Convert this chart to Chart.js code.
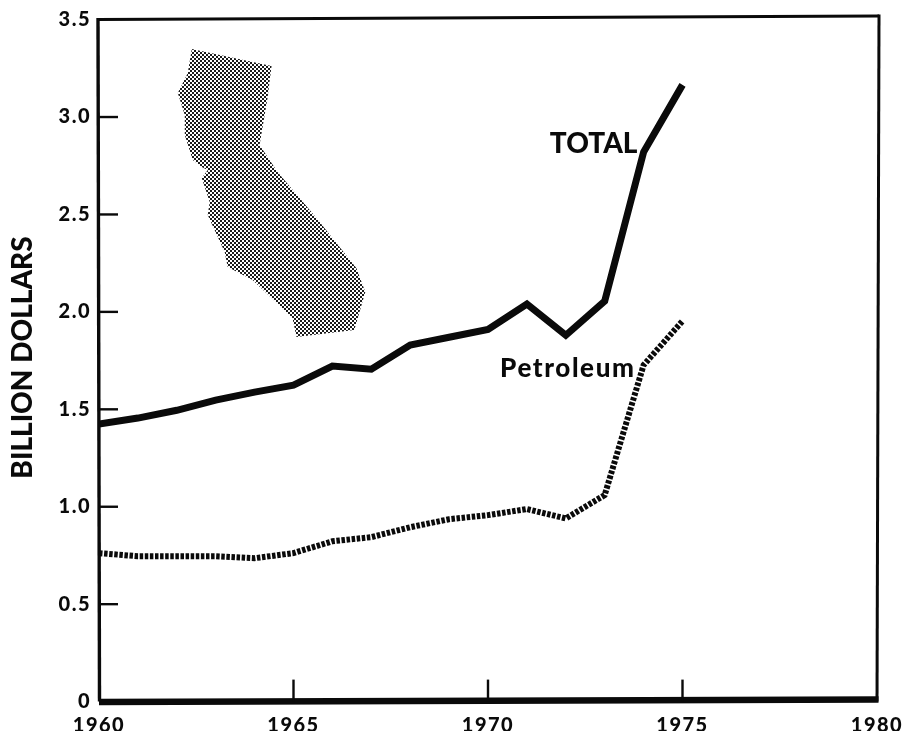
<!DOCTYPE html>
<html><head><meta charset="utf-8">
<style>html,body{margin:0;padding:0;background:#fff}canvas{display:block}</style>
<script src="https://cdn.jsdelivr.net/npm/chart.js@4"></script>
</head><body><canvas id="c" width="908" height="731" style="width:908px;height:731px"></canvas>
<script>
const years=[1960,1961,1962,1963,1964,1965,1966,1967,1968,1969,1970,1971,1972,1973,1974,1975];
const total=[1.424,1.455,1.495,1.547,1.588,1.624,1.722,1.706,1.83,1.87,1.91,2.04,1.88,2.055,2.82,3.165];
const petroleum=[0.762,0.746,0.746,0.746,0.736,0.762,0.823,0.844,0.895,0.936,0.957,0.988,0.94,1.06,1.727,1.953];
const mapX=[2.385,4.436,4.333,4.128,4.590,5.590,6.615,6.846,6.564,5.077,4.974,3.949,3.308,3.231,2.795,2.846,2.641,2.795,2.641,2.410,2.205,2.205,2.026,2.282];
const mapY=[3.349,3.262,3.098,2.856,2.718,2.482,2.225,2.102,1.907,1.871,1.968,2.163,2.230,2.307,2.497,2.564,2.687,2.728,2.743,2.779,2.908,3.010,3.123,3.226];
const xTicks=[1960,1965,1970,1975,1980];
const yTicks=[0,0.5,1,1.5,2,2.5,3,3.5];
const fontFam='Lato, "Noto Sans", sans-serif';
const ink='#0a0a0a';
const pair=(xs,ys)=>xs.map((x,i)=>({x,y:ys[i]}));
const tile=document.createElement('canvas');tile.width=4;tile.height=4;
const t=tile.getContext('2d');t.fillStyle='#1a1a1a';
t.fillRect(0,0,2,2);t.fillRect(2,2,2,2);
const pattern=t.createPattern(tile,'repeat');
const frame={id:'frame',
 beforeDraw(ch){ch.ctx.letterSpacing='1.5px';},
 afterDraw(ch){
  const {ctx,chartArea:a,scales:{x,y}}=ch;
  ctx.save();ctx.letterSpacing='0px';ctx.strokeStyle=ink;ctx.lineCap='butt';
  const seg=(w,x1,y1,x2,y2)=>{ctx.lineWidth=w;ctx.beginPath();ctx.moveTo(x1,y1);ctx.lineTo(x2,y2);ctx.stroke();};
  seg(3,a.left-1,a.top,a.right+2,a.top-3.5);
  seg(3,a.right+2,a.top-5,a.right,a.bottom);
  seg(3.4,a.left-1,a.top-1.5,a.left+0.5,a.bottom);
  seg(6.5,a.left,a.bottom+0.5,a.right+1.5,a.bottom-2);
  yTicks.slice(1,-1).forEach(v=>seg(2.4,a.left,y.getPixelForValue(v),a.left+19,y.getPixelForValue(v)));
  xTicks.slice(1,-1).forEach(v=>seg(2.4,x.getPixelForValue(v),a.bottom,x.getPixelForValue(v),a.bottom-22));
  ctx.fillStyle=ink;ctx.textBaseline='alphabetic';ctx.textAlign='left';
  ctx.font='900 28px '+fontFam;ctx.fillText('TOTAL',x.getPixelForValue(1971.59),y.getPixelForValue(2.815));
  ctx.letterSpacing='1.6px';
  ctx.font='900 26px '+fontFam;ctx.fillText('Petroleum',x.getPixelForValue(1970.31),y.getPixelForValue(1.665));
  ctx.letterSpacing='0px';
  ctx.translate(31.5,357.5);ctx.rotate(-Math.PI/2);ctx.textAlign='center';
  ctx.font='900 28px '+fontFam;ctx.fillText('BILLION DOLLARS',0,0);
  ctx.restore();
}};
new Chart(document.getElementById('c'),{
  type:'line',
  data:{datasets:[
    {label:'California',data:pair(mapX.map(v=>v+1960),mapY),borderWidth:0,pointRadius:0,fill:'shape',backgroundColor:pattern,tension:0},
    {label:'TOTAL',data:pair(years,total),borderColor:ink,borderWidth:7,pointRadius:0,fill:false,tension:0,borderJoinStyle:'miter'},
    {label:'Petroleum',data:pair(years,petroleum),borderColor:ink,borderWidth:6,borderDash:[3.5,1.6],pointRadius:0,fill:false,tension:0}
  ]},
  options:{
    responsive:false,animation:false,
    layout:{padding:{top:19.6,right:31,left:0,bottom:0}},
    plugins:{legend:{display:false},tooltip:{enabled:false}},
    scales:{
      x:{type:'linear',min:1960,max:1980,grid:{display:false,drawTicks:false,tickLength:0},border:{display:false},
        afterBuildTicks(s){s.ticks=xTicks.map(value=>({value}));},
        afterFit(s){s.height=29.4;s.paddingLeft=0;s.paddingRight=0;},
        ticks:{color:ink,padding:12,maxRotation:0,autoSkip:false,font:{family:fontFam,size:20,weight:'900'},callback:v=>String(v)}},
      y:{min:0,max:3.5,grid:{display:false,drawTicks:false,tickLength:0},border:{display:false},
        afterBuildTicks(s){s.ticks=yTicks.map(value=>({value}));},
        afterFit(s){s.width=99;s.paddingTop=0;s.paddingBottom=0;},
        ticks:{color:ink,padding:8,font:{family:fontFam,size:20,weight:'900'},callback:v=>v===0?'0':v.toFixed(1)}}
    }
  },
  plugins:[frame]
});
</script></body></html>
